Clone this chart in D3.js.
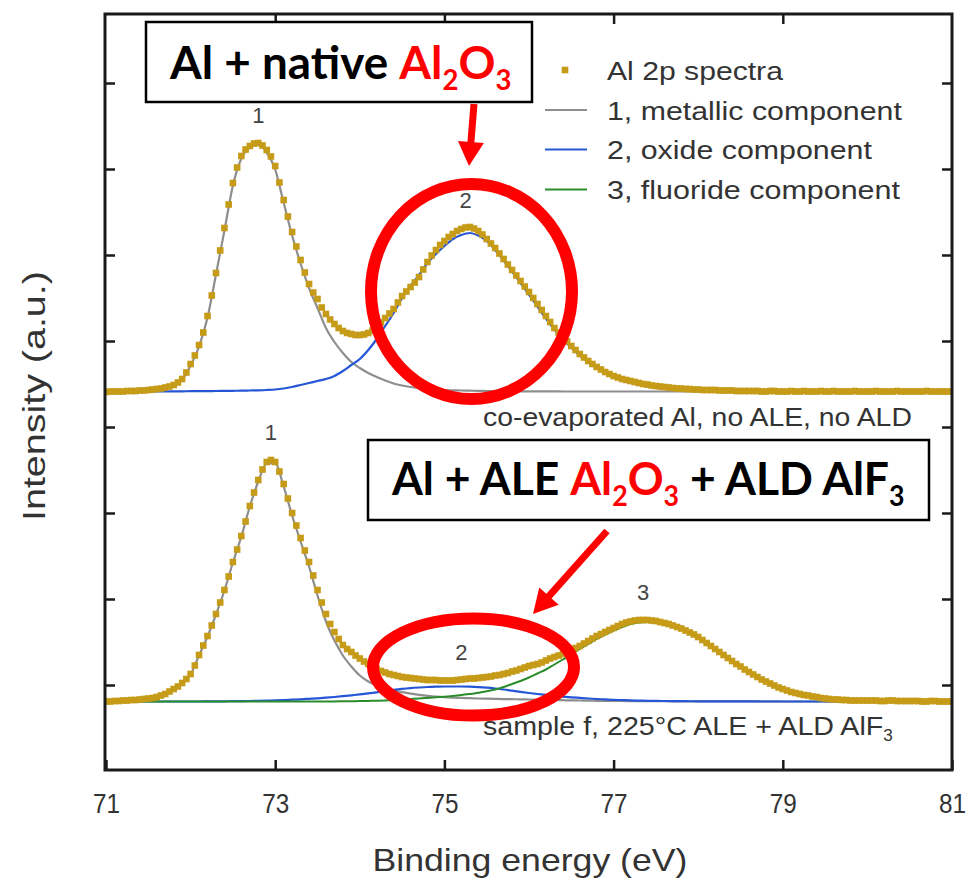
<!DOCTYPE html>
<html><head><meta charset="utf-8">
<script src="https://cdn.jsdelivr.net/npm/d3@7"></script>
<style>body{margin:0;background:#fff}</style>
</head><body><svg id="c" width="969" height="879"></svg>
<script>
// ---------------- DATA ----------------
// energy grid of the fitted components (eV)
const energies = [
71.0,71.1,71.2,71.3,71.4,71.5,71.6,71.7,71.8,71.9,
72.0,72.1,72.2,72.3,72.4,72.5,72.6,72.7,72.8,72.9,
73.0,73.1,73.2,73.3,73.4,73.5,73.6,73.7,73.8,73.9,
74.0,74.1,74.2,74.3,74.4,74.5,74.6,74.7,74.8,74.9,
75.0,75.1,75.2,75.3,75.4,75.5,75.6,75.7,75.8,75.9,
76.0,76.1,76.2,76.3,76.4,76.5,76.6,76.7,76.8,76.9,
77.0,77.1,77.2,77.3,77.4,77.5,77.6,77.7,77.8,77.9,
78.0,78.1,78.2,78.3,78.4,78.5,78.6,78.7,78.8,78.9,
79.0,79.1,79.2,79.3,79.4,79.5,79.6,79.7,79.8,79.9,
80.0,80.1,80.2,80.3,80.4,80.5,80.6,80.7,80.8,80.9,
81.0];

// energy grid of the measured spectra (eV)
const specEnergies = [
71.00,71.05,71.10,71.15,71.20,71.25,71.30,71.35,71.40,71.45,71.50,71.55,71.60,71.65,71.70,71.75,71.80,71.85,71.90,71.95,
72.00,72.05,72.10,72.15,72.20,72.25,72.30,72.35,72.40,72.45,72.50,72.55,72.60,72.65,72.70,72.75,72.80,72.85,72.90,72.95,
73.00,73.05,73.10,73.15,73.20,73.25,73.30,73.35,73.40,73.45,73.50,73.55,73.60,73.65,73.70,73.75,73.80,73.85,73.90,73.95,
74.00,74.05,74.10,74.15,74.20,74.25,74.30,74.35,74.40,74.45,74.50,74.55,74.60,74.65,74.70,74.75,74.80,74.85,74.90,74.95,
75.00,75.05,75.10,75.15,75.20,75.25,75.30,75.35,75.40,75.45,75.50,75.55,75.60,75.65,75.70,75.75,75.80,75.85,75.90,75.95,
76.00,76.05,76.10,76.15,76.20,76.25,76.30,76.35,76.40,76.45,76.50,76.55,76.60,76.65,76.70,76.75,76.80,76.85,76.90,76.95,
77.00,77.05,77.10,77.15,77.20,77.25,77.30,77.35,77.40,77.45,77.50,77.55,77.60,77.65,77.70,77.75,77.80,77.85,77.90,77.95,
78.00,78.05,78.10,78.15,78.20,78.25,78.30,78.35,78.40,78.45,78.50,78.55,78.60,78.65,78.70,78.75,78.80,78.85,78.90,78.95,
79.00,79.05,79.10,79.15,79.20,79.25,79.30,79.35,79.40,79.45,79.50,79.55,79.60,79.65,79.70,79.75,79.80,79.85,79.90,79.95,
80.00,80.05,80.10,80.15,80.20,80.25,80.30,80.35,80.40,80.45,80.50,80.55,80.60,80.65,80.70,80.75,80.80,80.85,80.90,80.95,
81.00];

// stacking offsets (a.u.)
const topOffset = 378.5;
const bottomOffset = 68.5;

// Top: co-evaporated Al, no ALE, no ALD  (Al 2p spectrum)
const topSpectrum = [
-0.5,0,0,0,0,0.5,0.5,0.5,1,1,1.5,2,2.5,3,4,5,6.5,9,12.5,19,
27.5,36,46.5,59,75.5,96,118.5,141,163.5,187,208.5,224,235.5,242,245.5,248,248.5,246,241.5,235,
225.5,209,191.5,175,159.5,145,131.5,119,107.5,99,92.5,84,77.5,72,67.5,63.5,60.5,58.5,57.5,56.5,
56.5,57,58.5,61,64.5,69,73.5,78,82.5,89,95.5,100,104.5,109,114.5,122,129.5,136,141.5,146.5,
150.5,154.5,157.5,160.5,162.5,164,164.5,163,160.5,157,152.5,148,143.5,138,132.5,127,121.5,116,110.5,105,
99.5,93.5,87.5,81.5,75.5,69.5,63.5,59,54.5,50,45.5,41.5,37.5,34,30.5,27.5,24.5,22,19.5,17.5,
15.5,14,12.5,11.5,10.5,9.5,8.5,7.5,7,6,5.5,5,4.5,4,3.5,3,3,2.5,2.5,2,
2,1.5,1.5,1.5,1.5,1,1,1,1,0.5,0.5,0.5,0.5,0.5,0.5,0,0,0.5,0.5,0,
0,0,0.5,0,0,0.5,0,0,0,0.5,0,0,0.5,0,0,0,0,0.5,0,0,
0,0,0.5,0,0,0,0,0.5,0,0,0,0,0,0,0.5,0,0,0,0,0,
0];
const topMetallic = [
0,0,0.3,0.5,0.8,1.2,2,3.5,6,12,
26,45,74,117,161,206,233,244,246.5,239,
222,189,156,128,103.5,83.5,63.5,49.5,38.5,29.5,
23.5,18.5,14.5,11,8,6,4.5,3.5,2.7,2,
1.5,1.2,1,0.8,0.6,0.5,0.4,0.3,0.3,0.2,
0.2,0.1,0.1,0.1,0,0,0,0,0,0,
0,0,0,0,0,0,0,0,0,0,
0,0,0,0,0,0,0,0,0,0,
0,0,0,0,0,0,0,0,0,0,
0,0,0,0,0,0,0,0,0,0,
0];
const topOxide = [
0,0,0,0,0,0.1,0.1,0.1,0.2,0.2,
0.3,0.3,0.4,0.5,0.6,0.7,0.8,1,1.2,1.5,
2,3,4.5,6.5,8.5,10.5,12.5,15.5,20.5,26.5,
32.5,41.5,52.5,65.5,78.5,93.5,105.5,116.5,128.5,137.5,
145.5,152.5,156.5,158.5,156,150.5,141.5,131,120,108.5,
97,85,73,62,52,44,36,29.5,23.5,18.5,
14.5,11,8.5,6.5,5,3.8,2.8,2,1.5,1.1,
0.8,0.6,0.4,0.3,0.2,0.1,0.1,0,0,0,
0,0,0,0,0,0,0,0,0,0,
0,0,0,0,0,0,0,0,0,0,
0];

// Bottom: sample f, 225°C ALE + ALD AlF3  (Al 2p spectrum)
const bottomSpectrum = [
0,0,0.5,0.5,1,1,1.5,1.5,2,2.5,3,3.5,4.5,6,7.5,10,12.5,15,18.5,22.5,
27.5,36,46.5,56,65.5,76,87.5,99,111.5,125,139.5,152,165.5,180,195.5,209,221.5,232,239.5,241.5,
239.5,230,217.5,203,188.5,176,163.5,151,139.5,126,111.5,99,87.5,77.5,69.5,62.5,56.5,52.5,49.5,46,
43,40,37.5,35,32.5,30.5,29,27.5,26.5,25.5,24.5,24,23.5,23,22.5,22,21.5,21.5,21.5,21,
21,21,21,21.5,22,22.5,23,23,23.5,24,24.5,25,26,26.5,27.5,28.5,30,31,32.5,34,
35.5,36.5,37.5,39,41,43,44.5,46,47.5,49.5,51.5,53.5,55.5,58,60.5,63,65.5,67.5,69.5,71.5,
73.5,75.5,77.5,79,80,81,81.5,81.5,81.5,81,80.5,79.5,78.5,77.5,76,74.5,73,71,69,67,
64.5,61.5,58.5,55.5,52.5,49.5,46.5,43.5,40.5,37.5,35,32,29.5,27,24.5,22,20,18,16,14,
12.5,11,9.5,8.5,7.5,6.5,6,5,4.5,3.5,3,2.5,2,2,1.5,1.5,1,1,1,1,
1,1,1,0.5,0.5,1,1,0.5,0.5,0.5,0.5,0.5,0.5,0,0,0.5,0.5,0,0,0,
0];
const bottomMetallic = [
0,0.3,0.7,1.2,1.8,2.7,4.2,7,12,18,
27,46,65,87,111,139,165,195,220,238,
238,215,186,160,135,106,80,61,46,35,
26,20,16,13,11,9.3,7.8,6.6,5.6,4.9,
4.3,3.9,3.6,3.3,3,2.8,2.6,2.4,2.3,2.2,
2,1.8,1.6,1.5,1.3,1.1,1,0.8,0.7,0.6,
0.5,0.5,0.4,0.4,0.3,0.3,0.3,0.2,0.2,0.2,
0.2,0.2,0.1,0.1,0.1,0.1,0.1,0.1,0.1,0.1,
0,0,0,0,0,0,0,0,0,0,
0,0,0,0,0,0,0,0,0,0,
0];
const bottomOxide = [
0,0,0,0,0,0,0,0,0,0,
0,0,0.1,0.1,0.2,0.3,0.4,0.5,0.7,0.9,
1.1,1.4,1.8,2.2,2.7,3.2,3.8,4.5,5.3,6.2,
7.1,8.1,9.2,10.4,11.6,12.6,13.4,14,14.5,14.8,
15,15,15,14.8,14.4,13.8,13,12,10.8,9.6,
8.5,7.5,6.6,5.7,4.9,4.2,3.6,3,2.5,2.1,
1.7,1.4,1.1,0.9,0.7,0.6,0.5,0.4,0.3,0.25,
0.2,0.18,0.15,0.12,0.1,0.08,0.05,0.03,0,0,
0,0,0,0,0,0,0,0,0,0,
0,0,0,0,0,0,0,0,0,0,
0];
const bottomFluoride = [
0,0,0,0,0,0,0,0,0,0,
0,0,0,0,0,0,0,0,0,0,
0,0,0,0,0,0,0.1,0.1,0.2,0.3,
0.4,0.6,0.8,1.1,1.5,2,2.5,3,3.6,4.2,
4.8,5.6,6.5,7.5,8.8,10.2,12,14.5,17.5,20.5,
24,28,32,37,42,47,52.5,57.5,62.5,67,
71,74.5,77.5,79,79.5,79,77.5,75.5,72.5,68.5,
64,58.5,52.5,46.5,40.5,35,29.5,24.5,20,16,
12.5,9.5,7.2,5.4,4,2.9,2.1,1.5,1.1,0.8,
0.5,0.4,0.3,0.25,0.2,0.15,0.1,0.08,0.05,0.03,
0];

const xTickValues = [71, 73, 75, 77, 79, 81];
const yTickValues = [85, 171, 257, 343, 429, 515, 601, 687];
const legendLabels = ["Al 2p spectra", "1, metallic component", "2, oxide component", "3, fluoride component"];
const peakLabels = [
  {text: "1", e: 72.8, panel: "top"},
  {text: "2", e: 75.25, panel: "top"},
  {text: "1", e: 72.95, panel: "bottom"},
  {text: "2", e: 75.2, panel: "bottom"},
  {text: "3", e: 77.35, panel: "bottom"}
];

// ---------------- DRAW ----------------
const FONT = "'Liberation Sans', Arial, sans-serif";
const BOLD = "Lato, 'Open Sans', sans-serif";
const C = {spec: "#c69b17", gray: "#8e8e8e", blue: "#2456d6", green: "#2b8c2b", red: "#ff0000", text: "#333"};

const svg = d3.select("#c");
const x = d3.scaleLinear().domain([71, 81]).range([106, 952]);
const y = d3.scaleLinear().domain([0, 756]).range([770, 14]);

svg.append("defs").append("clipPath").attr("id", "clip")
  .append("rect").attr("x", 106).attr("y", 15).attr("width", 845).attr("height", 754);

const plot = svg.append("g").attr("clip-path", "url(#clip)");

function lineFor(off) {
  return d3.line().x((d, i) => x(energies[i])).y(d => y(d + off)).curve(d3.curveMonotoneX);
}
const comps = [
  {vals: topMetallic, off: topOffset, color: C.gray, w: 2.2},
  {vals: topOxide, off: topOffset, color: C.blue, w: 2.2},
  {vals: bottomMetallic, off: bottomOffset, color: C.gray, w: 2.2},
  {vals: bottomOxide, off: bottomOffset, color: C.blue, w: 2.2},
  {vals: bottomFluoride, off: bottomOffset, color: C.green, w: 2}
];
comps.forEach(s => {
  plot.append("path").datum(s.vals).attr("fill", "none").attr("stroke", s.color)
    .attr("stroke-width", s.w).attr("d", lineFor(s.off));
});

[[topSpectrum, topOffset], [bottomSpectrum, bottomOffset]].forEach(([vals, off]) => {
  plot.append("g").selectAll("rect").data(vals).join("rect")
    .attr("x", (d, i) => x(specEnergies[i]) - 3.3)
    .attr("y", d => y(d + off) - 3.3)
    .attr("width", 6.6).attr("height", 6.6)
    .attr("fill", C.spec);
});

// ---------- text helper ----------
function richText(parent, o) {
  const g = parent.append("g");
  const t = g.append("text")
    .attr("font-family", o.family || FONT)
    .attr("font-size", o.size)
    .attr("font-weight", o.weight || 400)
    .attr("fill", o.fill || C.text);
  let shift = 0;
  o.parts.forEach(p => {
    const ts = t.append("tspan").text(p.t);
    if (p.fill) ts.attr("fill", p.fill);
    const want = p.sub ? o.size * 0.24 : 0;
    if (want !== shift) { ts.attr("dy", want - shift); shift = want; }
    if (p.sub) ts.attr("font-size", o.size * 0.6);
  });
  const w0 = t.node().getComputedTextLength();
  const k = o.width ? o.width / w0 : 1;
  const off = o.anchor === "middle" ? -w0 / 2 : o.anchor === "end" ? -w0 : 0;
  g.attr("transform", `translate(${o.x},${o.y}) rotate(${o.rotate || 0}) scale(${k},1) translate(${off},0)`);
  return g;
}

// peak numbers
peakLabels.forEach(p => {
  const vals = p.panel === "top" ? topSpectrum : bottomSpectrum;
  const off = p.panel === "top" ? topOffset : bottomOffset;
  const i = d3.minIndex(specEnergies, e => Math.abs(e - p.e));
  richText(svg, {x: x(p.e), y: y(vals[i] + off) - 20, parts: [{t: p.text}], size: 22, anchor: "middle", fill: "#444"});
});

// panel annotations
richText(svg, {x: 483, y: 426, parts: [{t: "co-evaporated Al, no ALE, no ALD"}], size: 26, width: 429});
richText(svg, {x: 483, y: 735, parts: [{t: "sample f, 225°C ALE + ALD AlF"}, {t: "3", sub: true}], size: 26, width: 410});

// legend
const legendRows = [70, 110, 149.5, 189.5];
const legendColors = [C.spec, C.gray, C.blue, C.green];
const legendWidths = [176, 295, 265, 293];
legendLabels.forEach((lab, i) => {
  const ly = legendRows[i];
  if (i === 0) {
    svg.append("rect").attr("x", 561.7).attr("y", ly - 3.3).attr("width", 6.6).attr("height", 6.6).attr("fill", C.spec);
  } else {
    svg.append("line").attr("x1", 545).attr("x2", 587).attr("y1", ly).attr("y2", ly)
      .attr("stroke", legendColors[i]).attr("stroke-width", 2.2);
  }
  richText(svg, {x: 607, y: ly + 9.5, parts: [{t: lab}], size: 26, width: legendWidths[i]});
});

// axes (inward ticks, full frame)
const axG = svg.append("g").attr("color", "#1a1a1a");
const styleAxis = g => {
  g.select(".domain").remove();
  g.selectAll(".tick line").attr("stroke-width", 2.5);
  g.selectAll(".tick text").attr("font-family", FONT).attr("font-size", 27).attr("fill", C.text)
    .attr("transform", "scale(0.9,1)").attr("x", function() { return 0; });
};
axG.append("g").attr("transform", "translate(0,770)")
  .call(d3.axisBottom(x).tickValues(xTickValues).tickSize(-10).tickPadding(24).tickFormat(d3.format("d")))
  .call(styleAxis);
axG.append("g").attr("transform", "translate(0,14)")
  .call(d3.axisTop(x).tickValues(xTickValues.slice(1, -1)).tickSize(-10).tickFormat(""))
  .call(styleAxis);
axG.append("g").attr("transform", "translate(105,0)")
  .call(d3.axisLeft(y).tickValues(yTickValues).tickSize(-10).tickFormat(""))
  .call(styleAxis);
axG.append("g").attr("transform", "translate(952,0)")
  .call(d3.axisRight(y).tickValues(yTickValues).tickSize(-10).tickFormat(""))
  .call(styleAxis);
svg.append("rect").attr("x", 105).attr("y", 14).attr("width", 847).attr("height", 756)
  .attr("fill", "none").attr("stroke", "#1a1a1a").attr("stroke-width", 3);

// axis titles
richText(svg, {x: 530, y: 871, parts: [{t: "Binding energy (eV)"}], size: 32, anchor: "middle", width: 315});
richText(svg, {x: 45, y: 396, parts: [{t: "Intensity (a.u.)"}], size: 32, anchor: "middle", rotate: -90, width: 250});

// ---------- slide annotations ----------
const ann = svg.append("g");
function box(bx, by, bw, bh) {
  ann.append("rect").attr("x", bx).attr("y", by).attr("width", bw).attr("height", bh)
    .attr("fill", "#fff").attr("stroke", "#000").attr("stroke-width", 2.5);
}
box(146, 22, 386, 80);
richText(ann, {x: 170, y: 78.5, family: BOLD, weight: 700, size: 46, fill: "#000", width: 340,
  parts: [{t: "Al + native "}, {t: "Al", fill: C.red}, {t: "2", sub: true, fill: C.red}, {t: "O", fill: C.red}, {t: "3", sub: true, fill: C.red}]});
box(368, 440, 561, 80);
richText(ann, {x: 392, y: 495, family: BOLD, weight: 700, size: 46, fill: "#000", width: 511,
  parts: [{t: "Al + ALE "}, {t: "Al", fill: C.red}, {t: "2", sub: true, fill: C.red}, {t: "O", fill: C.red}, {t: "3", sub: true, fill: C.red},
          {t: " + ALD AlF"}, {t: "3", sub: true}]});

ann.append("ellipse").attr("cx", 471.5).attr("cy", 291.5).attr("rx", 100.5).attr("ry", 107.5)
  .attr("fill", "none").attr("stroke", C.red).attr("stroke-width", 12);
ann.append("ellipse").attr("cx", 473.5).attr("cy", 667).attr("rx", 100.5).attr("ry", 48.5)
  .attr("fill", "none").attr("stroke", C.red).attr("stroke-width", 12);

function arrow(x1, y1, x2, y2) {
  const dx = x2 - x1, dy = y2 - y1, L = Math.hypot(dx, dy);
  const ux = dx / L, uy = dy / L, hl = 24, hw = 13;
  const bx = x2 - ux * hl, by = y2 - uy * hl;
  ann.append("line").attr("x1", x1).attr("y1", y1).attr("x2", bx + ux * 2).attr("y2", by + uy * 2)
    .attr("stroke", C.red).attr("stroke-width", 7);
  ann.append("polygon").attr("fill", C.red)
    .attr("points", [[x2, y2], [bx - uy * hw, by + ux * hw], [bx + uy * hw, by - ux * hw]].map(p => p.join(",")).join(" "));
}
arrow(474, 104, 469, 166);
arrow(607, 531, 533, 614);
</script>
</body></html>
